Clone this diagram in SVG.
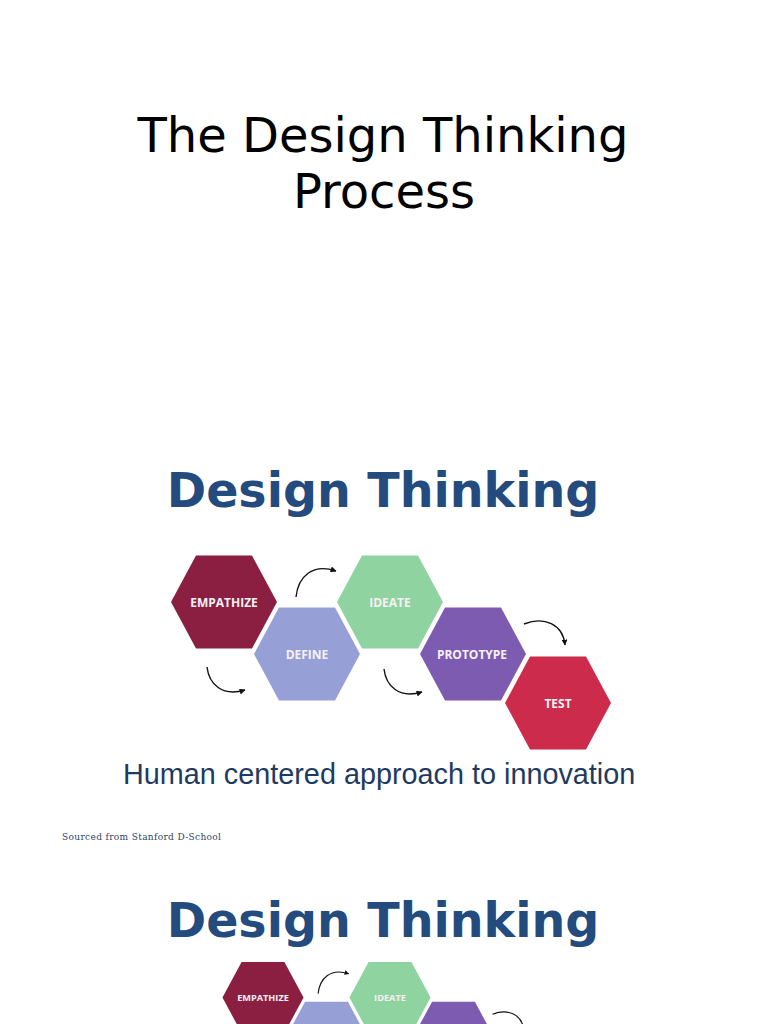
<svg xmlns="http://www.w3.org/2000/svg" xmlns:xlink="http://www.w3.org/1999/xlink" width="768" height="1024" viewBox="0 0 768 1024">
<style>
.title{font-family:"DejaVu Sans",sans-serif;font-size:48px;fill:#000;text-anchor:middle}
.head{font-family:"DejaVu Sans",sans-serif;font-weight:bold;font-size:47.5px;fill:#234b7e;text-anchor:middle}
.sub{font-family:"Liberation Sans",Arial,sans-serif;font-size:28.8px;fill:#1f3a5f}
.src{font-family:"DejaVu Serif",serif;font-size:9px;fill:#2e3f66}
.hl{font-family:"Open Sans","DejaVu Sans",sans-serif;font-weight:bold;font-size:12px;fill:#f6f2f4;text-anchor:middle}
.arr{fill:none;stroke:#111;stroke-width:1.4;marker-end:url(#ah)}
</style>
<defs>
<marker id="ah" viewBox="0 0 10 10" refX="9" refY="5" markerWidth="6" markerHeight="6" markerUnits="userSpaceOnUse" orient="auto">
<path d="M0,0 L10,5 L0,10 z" fill="#111"/>
</marker>
<polygon id="hex" points="-53,0 -28,-46.5 28,-46.5 53,0 28,46.5 -28,46.5"/>
</defs>
<rect width="768" height="1024" fill="#fff"/>
<text class="title" x="383" y="152">The Design Thinking</text>
<text class="title" x="384" y="208">Process</text>

<text class="head" x="383" y="507">Design Thinking</text>

<g id="diagram1">
<g id="empathize"><use xlink:href="#hex" x="224" y="602" fill="#8a1f42"/><text class="hl" x="224" y="607">EMPATHIZE</text></g>
<g id="define"><use xlink:href="#hex" x="307" y="654" fill="#979fd7"/><text class="hl" x="307" y="659">DEFINE</text></g>
<g id="ideate"><use xlink:href="#hex" x="390" y="602" fill="#8fd3a0"/><text class="hl" x="390" y="607">IDEATE</text></g>
<g id="prototype"><use xlink:href="#hex" x="473" y="654" fill="#7c5bb1"/><text class="hl" x="472" y="659">PROTOTYPE</text></g>
<g id="test"><use xlink:href="#hex" x="558" y="703" fill="#cc2b4b"/><text class="hl" x="558" y="708">TEST</text></g>
<g id="connectors">
<path class="arr" d="M296,597 C298,577 312,563 336,571"/>
<path class="arr" d="M207,667 C209,684 222,697 245,690"/>
<path class="arr" d="M384,669 C386,686 399,699 422,692"/>
<path class="arr" d="M524,624 C544,616 563,624 565,645"/>
</g>
</g>

<text class="sub" x="123" y="784">Human centered approach to innovation</text>
<text class="src" x="62" y="840" textLength="159">Sourced from Stanford D-School</text>

<text class="head" x="383" y="937">Design Thinking</text>

<g id="diagram2" transform="translate(390,997.5) scale(0.765) translate(-390,-602)">
<g id="empathize2"><use xlink:href="#hex" x="224" y="602" fill="#8a1f42"/><text class="hl" x="224" y="607">EMPATHIZE</text></g>
<g id="define2"><use xlink:href="#hex" x="307" y="654" fill="#979fd7"/></g>
<g id="ideate2"><use xlink:href="#hex" x="390" y="602" fill="#8fd3a0"/><text class="hl" x="390" y="607">IDEATE</text></g>
<g id="prototype2"><use xlink:href="#hex" x="473" y="654" fill="#7c5bb1"/></g>
<g id="connectors2">
<path class="arr" d="M296,597 C298,577 312,563 336,571"/>
<path class="arr" d="M524,624 C544,616 563,624 565,645"/>
</g>
</g>
</svg>
